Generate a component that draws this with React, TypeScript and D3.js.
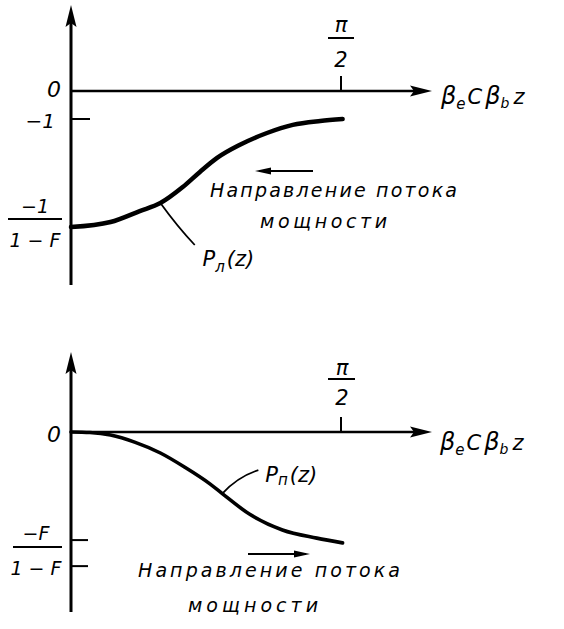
import React from 'react'
import * as d3 from 'd3'

// values; z in radians, P in units where the "-1" tick = -1
const zLeft = [0, 0.23, 0.40, 0.52, 0.65, 0.75, 0.85, 0.98, 1.14, 1.29, 1.45, 1.58]
const pLeft = [-4.86, -4.68, -4.29, -4.0, -3.43, -2.89, -2.39, -1.93, -1.5, -1.21, -1.07, -1.0]

const zRight = [0, 0.11, 0.23, 0.37, 0.52, 0.66, 0.81, 0.88, 1.04, 1.23, 1.43, 1.58]
const pRight = [0, -0.02, -0.11, -0.36, -0.75, -1.25, -1.86, -2.2, -2.94, -3.5, -3.79, -3.96]

const topTicks = [-1]
const bottomTicks = [-3.86, -4.79]
const xTickValue = Math.PI / 2

const W = 564
const H = 629
const FONT = '"DejaVu Sans", "Liberation Sans", sans-serif'

const x = d3.scaleLinear().domain([0, Math.PI / 2]).range([71, 341])
const yTop = d3.scaleLinear().domain([0, -1]).range([91, 119])
const yBot = d3.scaleLinear().domain([0, -1]).range([432, 460])

const line = (ys: d3.ScaleLinear<number, number>) =>
  d3.line<[number, number]>()
    .x(d => x(d[0]))
    .y(d => ys(d[1]))
    .curve(d3.curveMonotoneX)

const axisArrowUp = (cx: number, tip: number) =>
  `M${cx},${tip} L${cx - 5.5},${tip + 22} L${cx},${tip + 18} L${cx + 5.5},${tip + 22} Z`
const axisArrowRight = (tip: number, cy: number) =>
  `M${tip},${cy} L${tip - 22},${cy - 5.5} L${tip - 18},${cy} L${tip - 22},${cy + 5.5} Z`

const smallArrow = (x1: number, x2: number, yy: number) => {
  const dir = x2 > x1 ? 1 : -1
  return (
    <g>
      <line x1={x1} y1={yy} x2={x2 - dir * 4} y2={yy} stroke="#000" strokeWidth={1.8} />
      <path d={`M${x2},${yy} L${x2 - dir * 16},${yy - 3.5} L${x2 - dir * 16},${yy + 3.5} Z`} fill="#000" />
    </g>
  )
}

const AxisLabel = ({ px, py }: { px: number; py: number }) => (
  <text x={px} y={py} fontFamily={FONT} fontStyle="italic" fill="#000">
    <tspan fontSize={24}>β</tspan>
    <tspan fontSize={15} dy={5}>e</tspan>
    <tspan fontSize={21} dy={-5} dx={2}>C</tspan>
    <tspan fontSize={24} dx={3}>β</tspan>
    <tspan fontSize={14} dy={4}>b</tspan>
    <tspan fontSize={21} dy={-4} dx={4}>z</tspan>
  </text>
)

const Fraction = ({ cx, top, bottom, lineY, x1, x2, num, den }: any) => (
  <g fontFamily={FONT} fontStyle="italic" fontSize={19} textAnchor="middle" fill="#000">
    <text x={cx} y={top}>{num}</text>
    <line x1={x1} x2={x2} y1={lineY} y2={lineY} stroke="#000" strokeWidth={1.8} />
    <text x={cx} y={bottom}>{den}</text>
  </g>
)

export default function App() {
  const leftPts = zLeft.map((z, i) => [z, pLeft[i]] as [number, number])
  const rightPts = zRight.map((z, i) => [z, pRight[i]] as [number, number])

  const y0T = yTop(0)
  const y0B = yBot(0)
  const xt = x(xTickValue)

  // leader anchors taken from the curves
  const lt = leftPts[3]
  const rt = rightPts[7]

  return (
    <svg width={W} height={H} style={{ position: 'absolute', left: 0, top: 0, background: '#fff' }}>
      {/* ---------- top panel ---------- */}
      <g>
        <line x1={x(0)} x2={x(0)} y1={285} y2={20} stroke="#000" strokeWidth={3} />
        <path d={axisArrowUp(x(0), 5)} fill="#000" />
        <line x1={x(0)} x2={418} y1={y0T} y2={y0T} stroke="#000" strokeWidth={2.6} />
        <path d={axisArrowRight(432, y0T)} fill="#000" />
        <line x1={xt} x2={xt} y1={y0T - 15} y2={y0T} stroke="#000" strokeWidth={2} />
        {topTicks.map(t => (
          <line key={t} x1={x(0)} x2={x(0) + 19} y1={yTop(t)} y2={yTop(t)} stroke="#000" strokeWidth={2} />
        ))}

        <g fontFamily={FONT} fontStyle="italic" fill="#000">
          <text x={61} y={97} fontSize={22} textAnchor="end">0</text>
          <text x={55} y={128} fontSize={20} textAnchor="end">−1</text>
          <text x={xt} y={32} fontSize={21} textAnchor="middle">π</text>
          <line x1={xt - 13} x2={xt + 13} y1={38} y2={38} stroke="#000" strokeWidth={2} />
          <text x={xt} y={67} fontSize={21} textAnchor="middle">2</text>
        </g>
        <Fraction cx={35} top={213} bottom={247} lineY={219} x1={8} x2={62} num="−1" den="1 − F" />
        <AxisLabel px={441} py={104} />

        <path d={line(yTop)(leftPts) || ''} fill="none" stroke="#000" strokeWidth={4.5} strokeLinecap="round" />

        <path
          d={`M${x(lt[0])},${yTop(lt[1])} Q${x(0.62)},${yTop(-4.85)} ${x(0.72)},${yTop(-5.5)}`}
          fill="none" stroke="#000" strokeWidth={1.8}
        />
        <text x={x(0.765)} y={yTop(-6.25)} fontFamily={FONT} fontStyle="italic" fill="#000">
          <tspan fontSize={21}>P</tspan>
          <tspan fontSize={15} dy={6}>л</tspan>
          <tspan fontSize={21} dy={-6} dx={2}>(z)</tspan>
        </text>

        {smallArrow(313, 255, 171)}
        <g fontFamily={FONT} fontStyle="italic" fontSize={19} fill="#000">
          <text x={210} y={197} textLength={247} lengthAdjust="spacing">Направление потока</text>
          <text x={260} y={228} textLength={127} lengthAdjust="spacing">мощности</text>
        </g>
      </g>

      {/* ---------- bottom panel ---------- */}
      <g>
        <line x1={x(0)} x2={x(0)} y1={612} y2={367} stroke="#000" strokeWidth={3} />
        <path d={axisArrowUp(x(0), 352)} fill="#000" />
        <line x1={x(0)} x2={418} y1={y0B} y2={y0B} stroke="#000" strokeWidth={2.6} />
        <path d={axisArrowRight(432, y0B)} fill="#000" />
        <line x1={xt} x2={xt} y1={y0B - 15} y2={y0B} stroke="#000" strokeWidth={2} />
        {bottomTicks.map(t => (
          <line key={t} x1={x(0)} x2={x(0) + 17} y1={yBot(t)} y2={yBot(t)} stroke="#000" strokeWidth={2} />
        ))}

        <g fontFamily={FONT} fontStyle="italic" fill="#000">
          <text x={61} y={442} fontSize={22} textAnchor="end">0</text>
          <text x={xt + 1} y={375} fontSize={21} textAnchor="middle">π</text>
          <line x1={xt - 13} x2={xt + 14} y1={379} y2={379} stroke="#000" strokeWidth={2} />
          <text x={xt + 1} y={405} fontSize={21} textAnchor="middle">2</text>
        </g>
        <Fraction cx={36} top={540} bottom={575} lineY={547} x1={13} x2={62} num="−F" den="1 − F" />
        <AxisLabel px={440} py={450} />

        <path d={line(yBot)(rightPts) || ''} fill="none" stroke="#000" strokeWidth={3.6} strokeLinecap="round" />

        <path
          d={`M${x(rt[0])},${yBot(rt[1])} Q${x(0.97)},${yBot(-1.6)} ${x(1.09)},${yBot(-1.36)}`}
          fill="none" stroke="#000" strokeWidth={1.8}
        />
        <text x={x(1.13)} y={yBot(-1.8)} fontFamily={FONT} fontStyle="italic" fill="#000">
          <tspan fontSize={21}>P</tspan>
          <tspan fontSize={15} dy={3}>п</tspan>
          <tspan fontSize={21} dy={-3} dx={2}>(z)</tspan>
        </text>

        {smallArrow(248, 310, 554)}
        <g fontFamily={FONT} fontStyle="italic" fontSize={19} fill="#000">
          <text x={138} y={577} textLength={262} lengthAdjust="spacing">Направление потока</text>
          <text x={188} y={612} textLength={130} lengthAdjust="spacing">мощности</text>
        </g>
      </g>
    </svg>
  )
}
